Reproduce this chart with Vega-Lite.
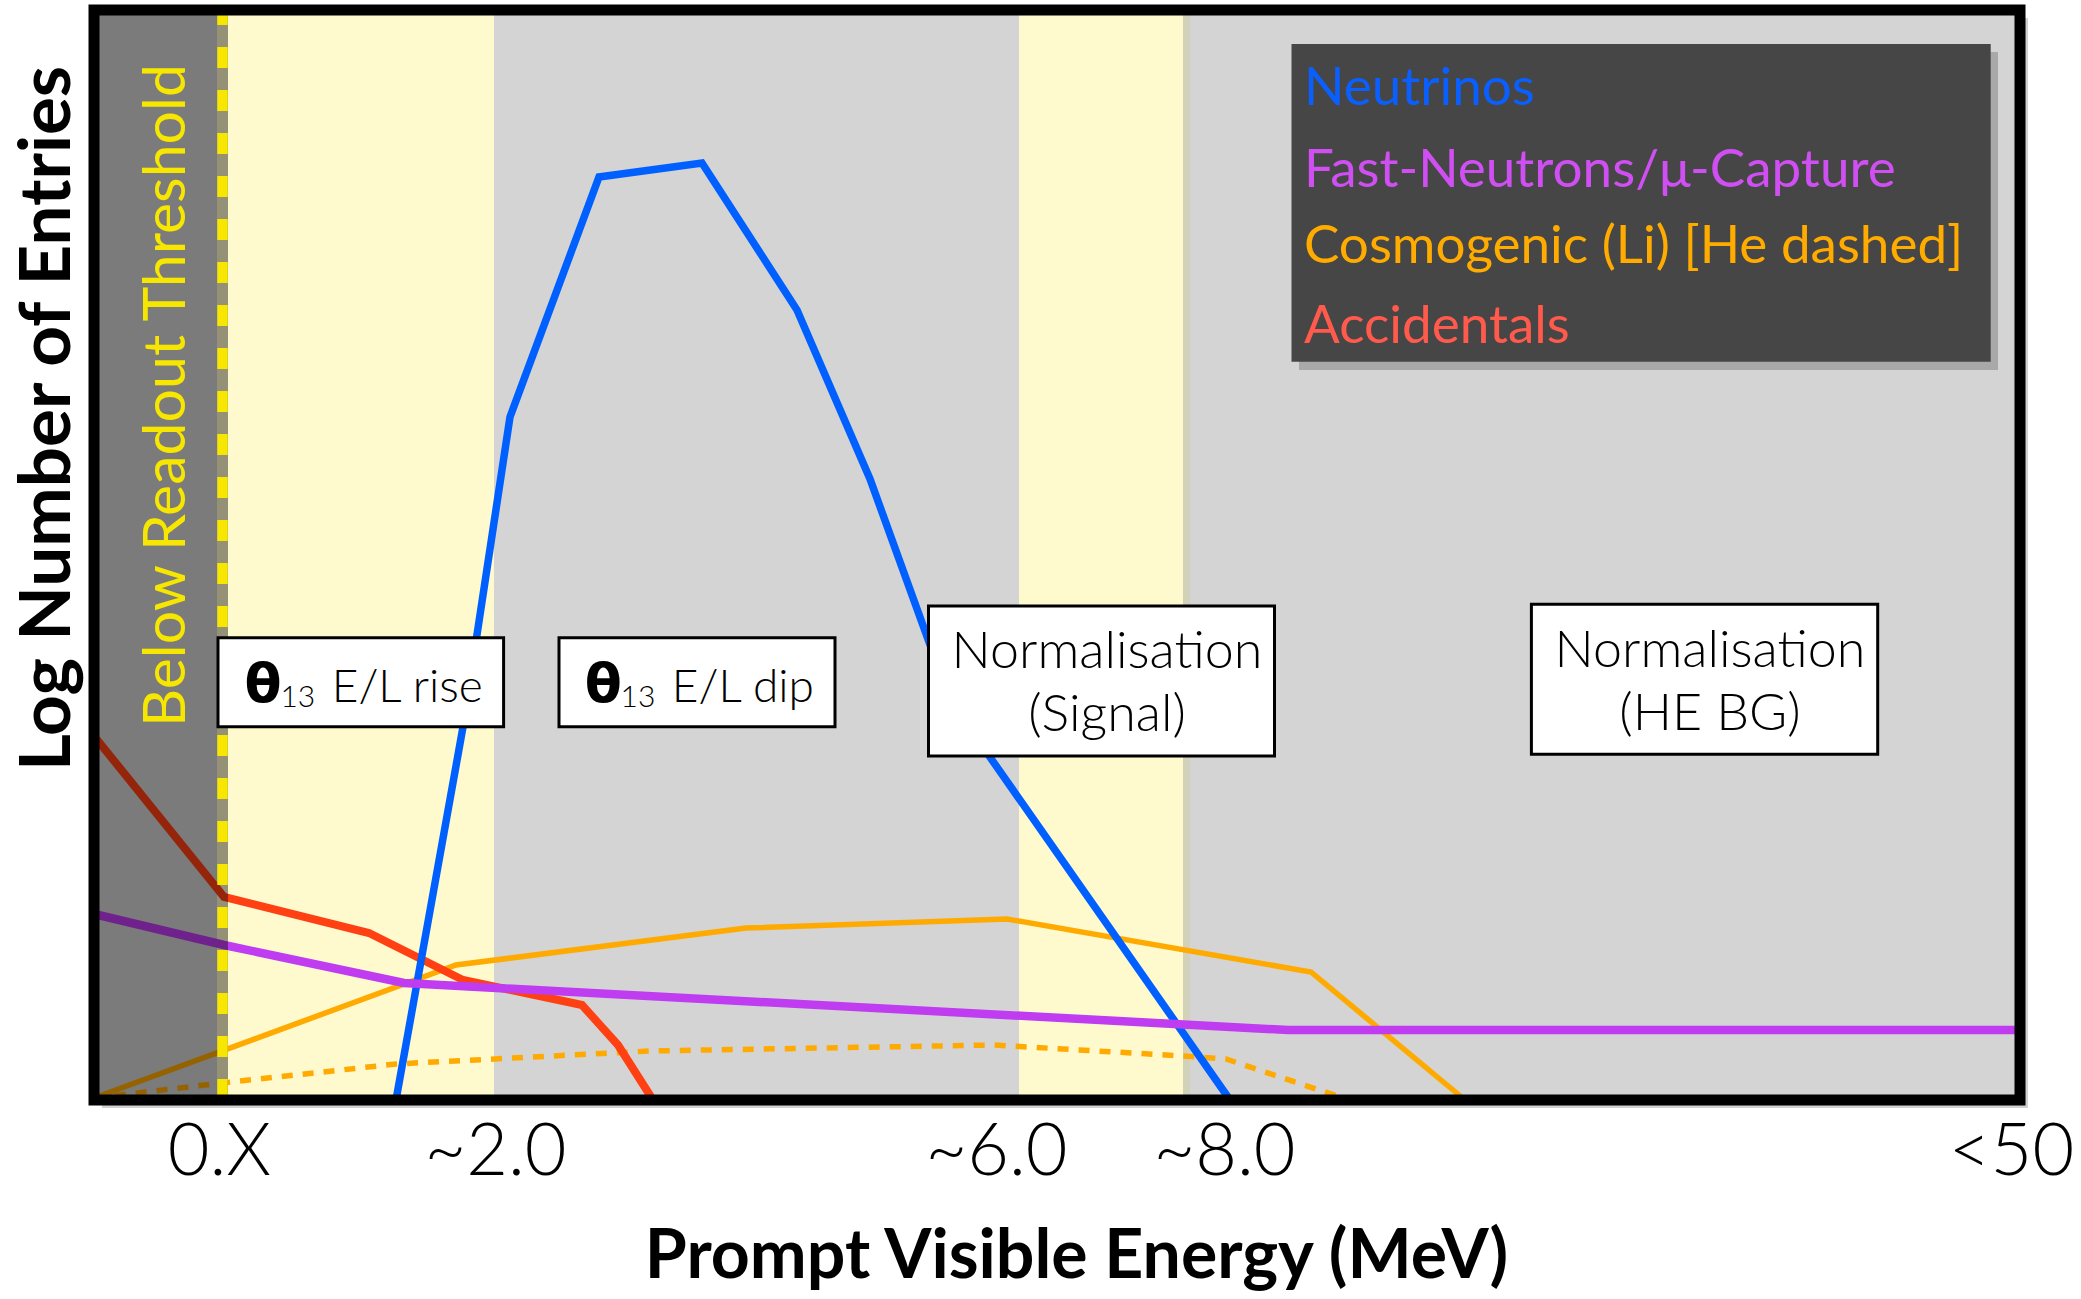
{
  "$schema": "https://vega.github.io/schema/vega-lite/v6.json",
  "width": 1926,
  "height": 1090,
  "autosize": {"type": "none"},
  "padding": {"left": 94, "top": 10, "right": 61, "bottom": 199},
  "background": "white",
  "config": {"view": {"stroke": null}, "font": "Lato"},
  "resolve": {"scale": {"color": "independent"}},
  "encoding": {
    "x": {"type": "quantitative", "scale": {"domain": [0, 1926], "nice": false, "zero": false},
      "axis": {"values": [125, 401, 902, 1130, 1917], "labelExpr": "datum.value == 125 ? '0.X' : datum.value == 401 ? '~2.0' : datum.value == 902 ? '~6.0' : datum.value == 1130 ? '~8.0' : '<50'",
        "domain": false, "ticks": false, "tickSize": 0, "grid": false, "labelPadding": 74, "labelBaseline": "alphabetic", "labelFont": "Lato", "labelFontWeight": 300, "labelFontSize": 72, "labelColor": "#000000", "labelFlush": false, "labelOverlap": false,
        "title": "Prompt Visible Energy (MeV)", "titleFont": "Lato", "titleFontWeight": "bold", "titleFontSize": 68, "titleColor": "#000000", "titleX": 982, "titleY": 177, "titleAlign": "center", "titleBaseline": "alphabetic"}},
    "y": {"type": "quantitative", "scale": {"domain": [0, 1090], "nice": false, "zero": false},
      "axis": {"labels": false, "ticks": false, "domain": false, "grid": false,
        "title": "Log Number of Entries", "titleFont": "Lato", "titleFontWeight": "bold", "titleFontSize": 71, "titleColor": "#000000", "titleAngle": -90, "titleX": -25, "titleY": 408, "titleAlign": "center", "titleBaseline": "alphabetic"}}
  },
  "datasets": {
    "curves": [
      {"series": "Neutrinos", "x": 302, "y": 0},
      {"series": "Neutrinos", "x": 369, "y": 373},
      {"series": "Neutrinos", "x": 416, "y": 683},
      {"series": "Neutrinos", "x": 505, "y": 923},
      {"series": "Neutrinos", "x": 608, "y": 937},
      {"series": "Neutrinos", "x": 703, "y": 790},
      {"series": "Neutrinos", "x": 776, "y": 621},
      {"series": "Neutrinos", "x": 856, "y": 400},
      {"series": "Neutrinos", "x": 1136, "y": 0},
      {"series": "Accidentals", "x": 0, "y": 364},
      {"series": "Accidentals", "x": 130, "y": 203},
      {"series": "Accidentals", "x": 275, "y": 167},
      {"series": "Accidentals", "x": 369, "y": 120},
      {"series": "Accidentals", "x": 488, "y": 95},
      {"series": "Accidentals", "x": 524, "y": 55},
      {"series": "Accidentals", "x": 559, "y": 0},
      {"series": "Fast-Neutrons", "x": 0, "y": 186},
      {"series": "Fast-Neutrons", "x": 130, "y": 155},
      {"series": "Fast-Neutrons", "x": 310, "y": 117},
      {"series": "Fast-Neutrons", "x": 1194, "y": 70},
      {"series": "Fast-Neutrons", "x": 1926, "y": 70},
      {"series": "Cosmogenic Li", "x": 0, "y": 2},
      {"series": "Cosmogenic Li", "x": 362, "y": 135},
      {"series": "Cosmogenic Li", "x": 652, "y": 172},
      {"series": "Cosmogenic Li", "x": 913, "y": 181},
      {"series": "Cosmogenic Li", "x": 1217, "y": 128},
      {"series": "Cosmogenic Li", "x": 1371, "y": 0},
      {"series": "Cosmogenic He", "x": 0, "y": 2},
      {"series": "Cosmogenic He", "x": 128, "y": 17},
      {"series": "Cosmogenic He", "x": 302, "y": 36},
      {"series": "Cosmogenic He", "x": 556, "y": 49},
      {"series": "Cosmogenic He", "x": 900, "y": 55},
      {"series": "Cosmogenic He", "x": 1089, "y": 44},
      {"series": "Cosmogenic He", "x": 1132, "y": 41},
      {"series": "Cosmogenic He", "x": 1255, "y": 0}
    ],
    "boxes": [
      {"name": "rise", "x": 124, "x2": 409.6, "y": 373.3, "y2": 462.3},
      {"name": "dip", "x": 465, "x2": 741, "y": 373.3, "y2": 462.3},
      {"name": "signal", "x": 834.5, "x2": 1180.5, "y": 344, "y2": 494},
      {"name": "hebg", "x": 1437.4, "x2": 1783.7, "y": 345.7, "y2": 495.7}
    ]
  },
  "layer": [
    {
      "data": {"values": [{"x": 8, "x2": 1934, "y": -8, "y2": 1082}]},
      "mark": {"type": "rect", "fill": "#000000", "opacity": 0.18},
      "encoding": {"x": {"field": "x"}, "x2": {"field": "x2"}, "y": {"field": "y"}, "y2": {"field": "y2"}}
    },
    {
      "data": {"values": [{"x": 0, "x2": 1926, "y": 0, "y2": 1090}]},
      "mark": {"type": "rect", "fill": "#d4d4d4"},
      "encoding": {"x": {"field": "x"}, "x2": {"field": "x2"}, "y": {"field": "y"}, "y2": {"field": "y2"}}
    },
    {
      "data": {"values": [{"x": 123, "x2": 400, "y": 0, "y2": 1090}, {"x": 925, "x2": 1089, "y": 0, "y2": 1090}]},
      "mark": {"type": "rect", "fill": "#fffacd"},
      "encoding": {"x": {"field": "x"}, "x2": {"field": "x2"}, "y": {"field": "y"}, "y2": {"field": "y2"}}
    },
    {
      "data": {"values": [{"x": 1089, "x2": 1096, "y": 0, "y2": 1090}]},
      "mark": {"type": "rect", "fill": "#d2d1ba"},
      "encoding": {"x": {"field": "x"}, "x2": {"field": "x2"}, "y": {"field": "y"}, "y2": {"field": "y2"}}
    },
    {
      "data": {"name": "curves"},
      "transform": [{"filter": "datum.series == 'Cosmogenic He'"}],
      "mark": {"type": "line", "color": "#ffaa00", "strokeWidth": 5.5, "strokeDash": [11, 10], "strokeCap": "butt"},
      "encoding": {"x": {"field": "x"}, "y": {"field": "y"}, "order": {"field": "x", "type": "quantitative"}}
    },
    {
      "data": {"name": "curves"},
      "transform": [{"filter": "datum.series == 'Cosmogenic Li'"}],
      "mark": {"type": "line", "color": "#ffaa00", "strokeWidth": 5.5, "strokeJoin": "miter"},
      "encoding": {"x": {"field": "x"}, "y": {"field": "y"}, "order": {"field": "x", "type": "quantitative"}}
    },
    {
      "data": {"name": "curves"},
      "transform": [{"filter": "datum.series == 'Accidentals'"}],
      "mark": {"type": "line", "color": "#ff4013", "strokeWidth": 8, "strokeJoin": "miter"},
      "encoding": {"x": {"field": "x"}, "y": {"field": "y"}, "order": {"field": "x", "type": "quantitative"}}
    },
    {
      "data": {"name": "curves"},
      "transform": [{"filter": "datum.series == 'Neutrinos'"}],
      "mark": {"type": "line", "color": "#0060ff", "strokeWidth": 7.5, "strokeJoin": "miter"},
      "encoding": {"x": {"field": "x"}, "y": {"field": "y"}, "order": {"field": "x", "type": "quantitative"}}
    },
    {
      "data": {"name": "curves"},
      "transform": [{"filter": "datum.series == 'Fast-Neutrons'"}],
      "mark": {"type": "line", "color": "#c03cf0", "strokeWidth": 8.5, "strokeJoin": "miter"},
      "encoding": {"x": {"field": "x"}, "y": {"field": "y"}, "order": {"field": "x", "type": "quantitative"}}
    },
    {
      "data": {"values": [{"x": 0, "x2": 134, "y": 0, "y2": 1090}]},
      "mark": {"type": "rect", "fill": "#000000", "opacity": 0.42},
      "encoding": {"x": {"field": "x"}, "x2": {"field": "x2"}, "y": {"field": "y"}, "y2": {"field": "y2"}}
    },
    {
      "data": {"values": [{"x": 128.5, "y": 0, "y2": 1090}]},
      "mark": {"type": "rule", "color": "#f6e600", "strokeWidth": 10.5, "strokeDash": [21, 22], "strokeCap": "butt"},
      "encoding": {"x": {"field": "x"}, "y": {"field": "y"}, "y2": {"field": "y2"}}
    },
    {
      "data": {"name": "boxes"},
      "mark": {"type": "rect", "fill": "#ffffff", "stroke": "#000000", "strokeWidth": 3},
      "encoding": {"x": {"field": "x"}, "x2": {"field": "x2"}, "y": {"field": "y"}, "y2": {"field": "y2"}}
    },
    {
      "data": {"values": [{"t": "θ", "x": 150.6, "y": 398.3}, {"t": "θ", "x": 490.8, "y": 398.3}]},
      "mark": {"type": "text", "font": "DejaVu Sans", "fontWeight": "bold", "fontSize": 54, "align": "left", "baseline": "alphabetic", "color": "#000000"},
      "encoding": {"x": {"field": "x"}, "y": {"field": "y"}, "text": {"field": "t"}}
    },
    {
      "data": {"values": [{"t": "13", "x": 186.4, "y": 393.3}, {"t": "13", "x": 526.5, "y": 393.3}]},
      "mark": {"type": "text", "font": "Lato", "fontWeight": 300, "fontSize": 30, "align": "left", "baseline": "alphabetic", "color": "#000000"},
      "encoding": {"x": {"field": "x"}, "y": {"field": "y"}, "text": {"field": "t"}}
    },
    {
      "data": {"values": [{"t": "E/L rise", "x": 237.7, "y": 398.3}, {"t": "E/L dip", "x": 577.8, "y": 398.3}]},
      "mark": {"type": "text", "font": "Lato", "fontWeight": 300, "fontSize": 46, "align": "left", "baseline": "alphabetic", "color": "#000000"},
      "encoding": {"x": {"field": "x"}, "y": {"field": "y"}, "text": {"field": "t"}}
    },
    {
      "data": {"values": [
        {"t": "Normalisation", "x": 1013, "y": 432},
        {"t": "(Signal)", "x": 1013, "y": 369},
        {"t": "Normalisation", "x": 1616, "y": 433},
        {"t": "(HE BG)", "x": 1616, "y": 370}
      ]},
      "mark": {"type": "text", "font": "Lato", "fontWeight": 300, "fontSize": 52, "align": "center", "baseline": "alphabetic", "color": "#000000"},
      "encoding": {"x": {"field": "x"}, "y": {"field": "y"}, "text": {"field": "t"}}
    },
    {
      "data": {"values": [{"x": 1205, "x2": 1904, "y": 730, "y2": 1048}]},
      "mark": {"type": "rect", "fill": "#000000", "opacity": 0.2},
      "encoding": {"x": {"field": "x"}, "x2": {"field": "x2"}, "y": {"field": "y"}, "y2": {"field": "y2"}}
    },
    {
      "data": {"values": [{"x": 1197.5, "x2": 1896.7, "y": 738.3, "y2": 1056}]},
      "mark": {"type": "rect", "fill": "#464646"},
      "encoding": {"x": {"field": "x"}, "x2": {"field": "x2"}, "y": {"field": "y"}, "y2": {"field": "y2"}}
    },
    {
      "data": {"values": [
        {"t": "Neutrinos", "x": 1210, "y": 995},
        {"t": "Fast-Neutrons/μ-Capture", "x": 1210, "y": 913},
        {"t": "Cosmogenic (Li) [He dashed]", "x": 1210, "y": 837},
        {"t": "Accidentals", "x": 1210, "y": 757}
      ]},
      "mark": {"type": "text", "font": "Lato", "fontSize": 53, "align": "left", "baseline": "alphabetic"},
      "encoding": {
        "x": {"field": "x"},
        "y": {"field": "y"},
        "text": {"field": "t"},
        "color": {"field": "t", "type": "nominal", "legend": null,
          "scale": {"domain": ["Neutrinos", "Fast-Neutrons/μ-Capture", "Cosmogenic (Li) [He dashed]", "Accidentals"], "range": ["#0a5fff", "#d04ff2", "#ffab00", "#ff5a4c"]}}
      }
    },
    {
      "data": {"values": [{"t": "Below Readout Threshold", "x": 91, "y": 704.5}]},
      "mark": {"type": "text", "font": "Lato", "fontSize": 59, "angle": -90, "align": "center", "baseline": "alphabetic", "color": "#f6e600"},
      "encoding": {"x": {"field": "x"}, "y": {"field": "y"}, "text": {"field": "t"}}
    },
    {
      "data": {"values": [{"x": 0, "x2": 1926, "y": 0, "y2": 1090}]},
      "mark": {"type": "rect", "fill": null, "fillOpacity": 0, "stroke": "#000000", "strokeWidth": 11},
      "encoding": {"x": {"field": "x"}, "x2": {"field": "x2"}, "y": {"field": "y"}, "y2": {"field": "y2"}}
    }
  ]
}
